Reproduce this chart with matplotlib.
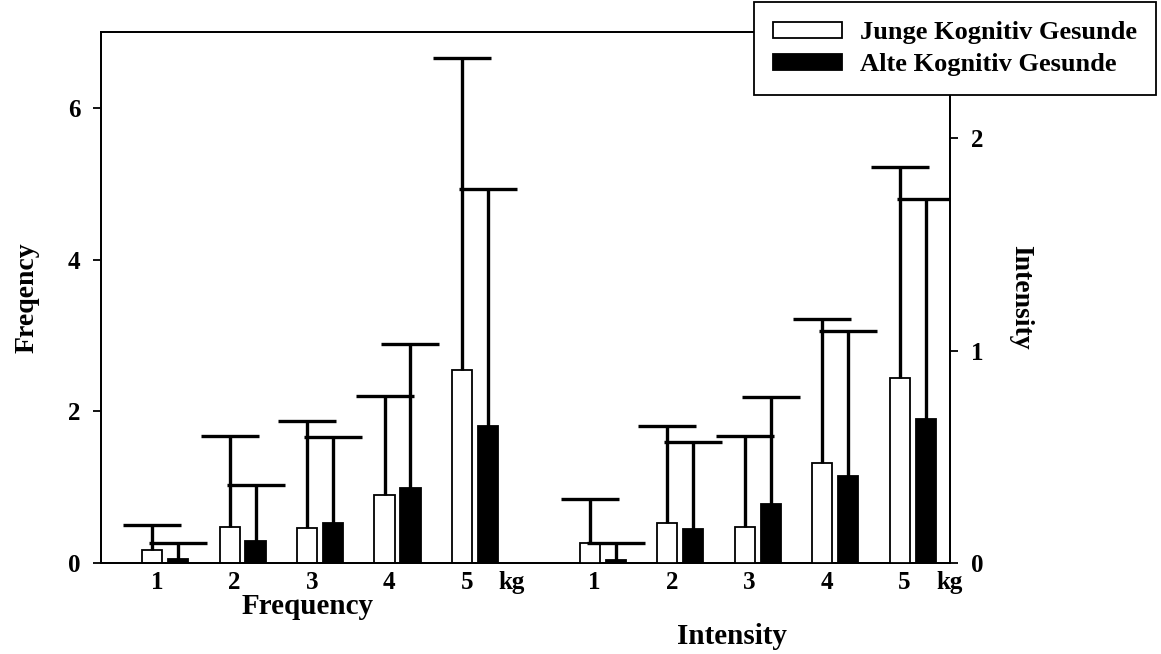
import matplotlib
matplotlib.use("Agg")
import matplotlib.pyplot as plt
import matplotlib.transforms as mtransforms
from matplotlib.patches import Patch
import numpy as np

plt.rcParams['font.family'] = ['Liberation Serif', 'DejaVu Serif']
plt.rcParams['font.weight'] = 'bold'

categories = ['1', '2', '3', '4', '5']
unit_label = 'kg'
series_names = ['Junge Kognitiv Gesunde', 'Alte Kognitiv Gesunde']

freq_young = [0.17, 0.48, 0.46, 0.90, 2.54]
freq_young_sd = [0.33, 1.19, 1.41, 1.30, 4.12]
freq_old = [0.05, 0.29, 0.53, 0.99, 1.81]
freq_old_sd = [0.21, 0.74, 1.13, 1.90, 3.12]

int_young = [0.095, 0.19, 0.17, 0.47, 0.87]
int_young_sd = [0.205, 0.453, 0.43, 0.679, 0.993]
int_old = [0.014, 0.16, 0.28, 0.41, 0.68]
int_old_sd = [0.081, 0.412, 0.50, 0.682, 1.036]

W, H = 1161, 654
fig = plt.figure(figsize=(W / 100, H / 100), dpi=100)
ax = fig.add_axes([101 / W, 1 - 563 / H, (950 - 101) / W, (563 - 32) / H])
ax2 = ax.twinx()

n = len(categories)
idx = np.arange(n)
freq_x = idx.astype(float)
int_x = idx + 5.65
bw = 0.26
off = 0.335

err_kw = dict(ecolor='black', elinewidth=2.4, capsize=21, capthick=2.4)
bar_kw = dict(width=bw, edgecolor='black', linewidth=1.3, zorder=3)


def draw(a, x, vals, sd, color):
    cont = a.bar(x, vals, color=color, yerr=[np.zeros(n), sd],
                 error_kw=err_kw, **bar_kw)
    # keep only the upper cap of each error bar
    for cap in cont.errorbar.lines[1]:
        if np.allclose(cap.get_ydata(), vals):
            cap.set_visible(False)
        else:
            cap.set_solid_capstyle('round')
    return cont


draw(ax, freq_x, freq_young, freq_young_sd, 'white')
draw(ax, freq_x + off, freq_old, freq_old_sd, 'black')
draw(ax2, int_x, int_young, int_young_sd, 'white')
draw(ax2, int_x + off, int_old, int_old_sd, 'black')

ax.set_xlim(-0.66, 10.30)
ax.set_ylim(0, 7)
ax2.set_ylim(0, 2.5)
ax.set_yticks([0, 2, 4, 6])
ax2.set_yticks([0, 1, 2])
ax.set_xticks([])

for a in (ax, ax2):
    for s in a.spines.values():
        s.set_linewidth(1.3)
    a.tick_params(axis='y', direction='out', length=6, width=1.3, labelsize=18, pad=9)
    for lab in a.get_yticklabels():
        lab.set_fontweight('bold')

ax.set_ylabel('Freqency', fontsize=20, fontweight='bold', labelpad=20)
ax2.set_ylabel('Intensity', fontsize=20, fontweight='bold', rotation=-90, labelpad=36)

trans = mtransforms.blended_transform_factory(ax.transData, ax.transAxes)
for xs in (freq_x, int_x):
    for x, c in zip(xs, categories):
        ax.annotate(c, xy=(x + 0.06, 0), xycoords=trans, xytext=(0, -6),
                    textcoords='offset points', ha='center', va='top',
                    fontsize=18, fontweight='bold', annotation_clip=False)
    ax.annotate(unit_label, xy=(xs[-1] + 0.64, 0), xycoords=trans, xytext=(0, -6),
                textcoords='offset points', ha='center', va='top',
                fontsize=18, fontweight='bold', annotation_clip=False)

fig.text(308 / W, 1 - 607 / H, 'Frequency', ha='center', va='center',
         fontsize=21, fontweight='bold')
fig.text(732 / W, 1 - 637 / H, 'Intensity', ha='center', va='center',
         fontsize=21, fontweight='bold')

handles = [Patch(facecolor='white', edgecolor='black', linewidth=1.3),
           Patch(facecolor='black', edgecolor='black', linewidth=1.3)]
leg = fig.legend(handles, series_names, loc='upper right',
                 bbox_to_anchor=(1156 / W, 1 - 2 / H), fancybox=False,
                 framealpha=1, edgecolor='black', prop=dict(size=19, weight='bold'),
                 handlelength=2.6, handleheight=0.55, borderpad=0.72,
                 labelspacing=0.35, handletextpad=0.7, borderaxespad=0)
leg.get_frame().set_linewidth(1.3)

fig.savefig('out.png', dpi=100)
